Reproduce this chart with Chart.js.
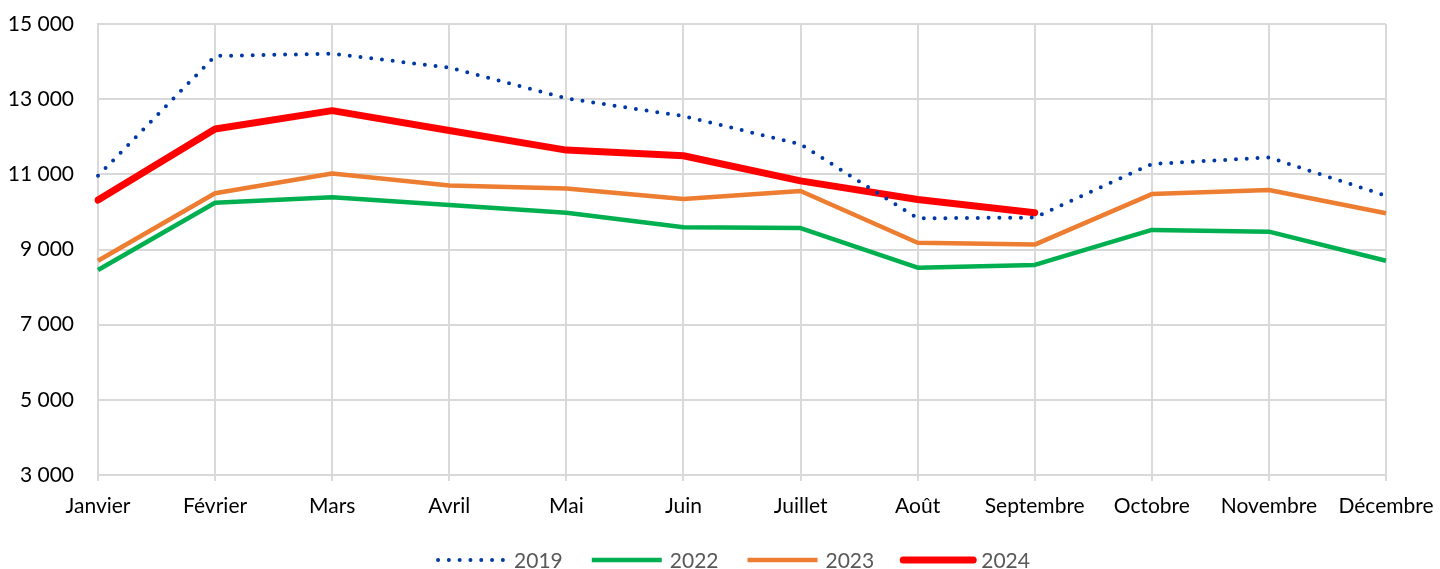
<!DOCTYPE html>
<html><head><meta charset="utf-8">
<script src="https://cdn.jsdelivr.net/npm/chart.js@4/dist/chart.umd.min.js"></script>
<style>html,body{margin:0;padding:0;background:#fff}#wrap{width:1440px;height:569px}</style>
</head><body><div id="wrap"><canvas id="c"></canvas></div>
<script>
const months = ["Janvier","Février","Mars","Avril","Mai","Juin","Juillet","Août","Septembre","Octobre","Novembre","Décembre"];
const s2019 = [10960,14150,14210,13840,13020,12550,11800,9830,9850,11275,11450,10430];
const s2022 = [8455,10245,10390,10185,9980,9590,9570,8515,8590,9520,9475,8700];
const s2023 = [8700,10495,11020,10700,10620,10345,10555,9180,9130,10475,10585,9965];
const s2024 = [10315,12205,12695,12165,11645,11495,10825,10330,9980];
const yMin = 3000, yMax = 15000, yStep = 2000;

const fmt = v => String(v).replace(/\B(?=(\d{3})+(?!\d))/g, " ");
const FONT = "Lato, 'DejaVu Sans', sans-serif";

// Bottom legend drawn from the datasets (line sample + label), centred like the original
const bottomLegend = {
  id: 'bottomLegend',
  afterDraw(chart) {
    const ctx = chart.ctx;
    const lineLen = 70, gapText = 8, gapItem = 29;
    const y = chart.height - 9;
    ctx.save();
    ctx.font = `21px ${FONT}`;
    ctx.textBaseline = 'middle';
    const items = chart.data.datasets.map(ds => ({ds, w: ctx.measureText(ds.label).width}));
    const total = items.reduce((s, it) => s + lineLen + gapText + it.w, 0) + gapItem * (items.length - 1);
    let x = chart.width / 2 + 13 - total / 2;
    items.forEach(({ds, w}) => {
      ctx.beginPath();
      ctx.strokeStyle = ds.borderColor;
      ctx.lineWidth = ds.borderWidth;
      ctx.lineCap = ds.borderCapStyle || 'butt';
      ctx.setLineDash(ds.borderDash || []);
      ctx.moveTo(x + (ds.borderDash ? 2 : 0), y);
      ctx.lineTo(x + lineLen, y);
      ctx.stroke();
      ctx.setLineDash([]);
      ctx.fillStyle = '#595959';
      ctx.fillText(ds.label, x + lineLen + gapText, y + 1);
      x += lineLen + gapText + w + gapItem;
    });
    ctx.restore();
  }
};

new Chart(document.getElementById('c'), {
  type: 'line',
  data: {
    labels: months,
    datasets: [
      {label:'2019', data:s2019, borderColor:'#0039A6', backgroundColor:'#0039A6', borderWidth:4, borderDash:[0,10.8], borderCapStyle:'round', pointRadius:0, tension:0},
      {label:'2022', data:s2022, borderColor:'#00B050', backgroundColor:'#00B050', borderWidth:4.5, borderJoinStyle:'round', pointRadius:0, tension:0},
      {label:'2023', data:s2023, borderColor:'#ED7D31', backgroundColor:'#ED7D31', borderWidth:4.5, borderJoinStyle:'round', pointRadius:0, tension:0},
      {label:'2024', data:s2024, borderColor:'#FF0000', backgroundColor:'#FF0000', borderWidth:7, borderCapStyle:'round', borderJoinStyle:'round', pointRadius:0, tension:0}
    ]
  },
  options: {
    responsive:true, maintainAspectRatio:false, animation:false,
    layout:{padding:{top:24,left:0,right:0,bottom:0}},
    plugins:{
      tooltip:{enabled:false},
      legend:{display:false}
    },
    scales:{
      x:{
        offset:false,
        afterFit: s => { s.height = 94; s.paddingLeft = 0; s.paddingRight = 54; },
        grid:{color:'#d9d9d9', lineWidth:2, drawTicks:true, tickLength:6},
        border:{color:'#d9d9d9', width:2},
        ticks:{color:'#000', font:{family:FONT, size:21}, padding:13, maxRotation:0, autoSkip:false}
      },
      y:{
        min:yMin, max:yMax,
        afterFit: s => { s.width = 98; s.paddingTop = 0; s.paddingBottom = 0; },
        grid:{color:'#d9d9d9', lineWidth:2, drawTicks:false},
        border:{color:'#d9d9d9', width:2},
        ticks:{stepSize:yStep, color:'#000', font:{family:FONT, size:21}, padding:24, callback:v=>fmt(v)}
      }
    }
  },
  plugins:[bottomLegend]
});
</script></body></html>
